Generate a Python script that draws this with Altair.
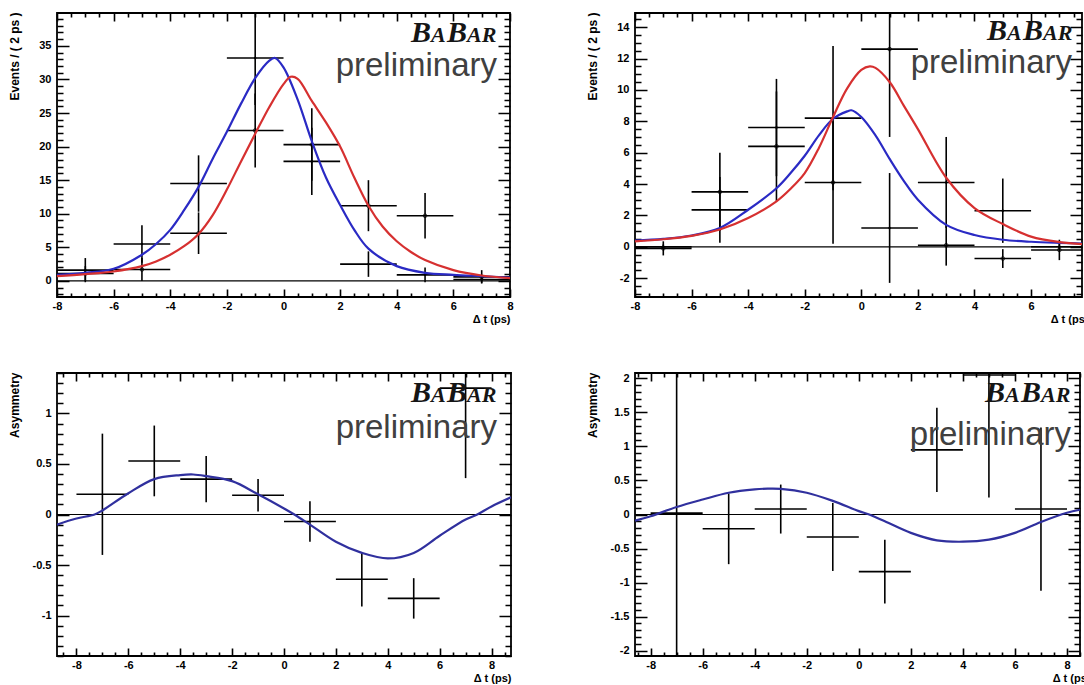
import altair as alt
import pandas as pd
import numpy as np

FONT = "Liberation Sans"
SERIF = "Liberation Serif"

# ---------------- data ----------------
bins = [-7, -5, -3, -1, 1, 3, 5, 7]

tl_blue_y = [1.6, 5.5, 14.5, 33.2, 17.8, 2.5, 0.9, 0.2]
tl_blue_err = [1.8, 2.8, 4.2, 7.0, 5.0, 1.9, 1.1, 0.5]
tl_red_y = [1.1, 1.7, 7.1, 22.4, 20.3, 11.2, 9.7, 0.6]
tl_red_err = [1.1, 1.7, 3.1, 5.5, 5.4, 3.8, 3.4, 1.0]
tl_blue_cx = [-8, -7, -6, -5, -4.5, -4, -3.5, -3, -2.5, -2, -1.5, -1, -0.5, -0.3, 0, 0.5, 1, 1.5, 2, 2.5, 3, 4, 5, 6, 7, 8]
tl_blue_cy = [0.9, 1.2, 1.8, 3.9, 5.5, 7.6, 10.6, 14.0, 18.2, 22.2, 26.4, 30.2, 32.8, 33.2, 31.8, 27.0, 20.8, 15.4, 11.3, 7.6, 4.8, 2.2, 1.2, 0.9, 0.7, 0.5]
tl_red_cx = [-8, -7, -6, -5, -4.5, -4, -3.5, -3, -2.5, -2, -1.5, -1, -0.5, 0, 0.25, 0.5, 1, 1.5, 2, 2.5, 3, 3.5, 4, 4.5, 5, 6, 7, 8]
tl_red_cy = [0.7, 1.0, 1.4, 2.2, 2.9, 3.9, 5.2, 7.0, 9.8, 13.6, 17.8, 21.9, 25.9, 29.3, 30.4, 30.1, 26.8, 23.6, 20.0, 15.4, 11.2, 8.1, 5.9, 4.3, 3.1, 1.6, 0.8, 0.4]

tr_blue_y = [0.0, 2.35, 7.6, 8.2, 1.2, 4.1, 2.3, 0.0]
tr_blue_err = [0.15, 2.1, 3.1, 4.6, 3.5, 2.9, 2.05, 0.2]
tr_red_y = [-0.1, 3.5, 6.4, 4.1, 12.6, 0.1, -0.75, -0.2]
tr_red_err = [0.45, 2.5, 3.5, 3.9, 5.6, 1.3, 0.6, 0.65]
tr_blue_cx = [-8, -7, -6, -5, -4, -3, -2.5, -2, -1.5, -1, -0.5, -0.35, 0, 0.5, 1, 1.5, 2, 3, 4, 5, 6, 7, 8]
tr_blue_cy = [0.4, 0.5, 0.72, 1.2, 2.36, 3.73, 4.7, 5.8, 7.1, 8.16, 8.63, 8.7, 8.27, 7.1, 5.6, 4.2, 3.0, 1.4, 0.75, 0.45, 0.32, 0.25, 0.2]
tr_red_cx = [-8, -7, -6, -5, -4, -3, -2.5, -2, -1.5, -1, -0.5, 0, 0.3, 0.5, 1, 1.5, 2, 3, 4, 5, 6, 7, 8]
tr_red_cy = [0.35, 0.48, 0.7, 1.1, 1.83, 2.9, 3.7, 4.7, 6.3, 8.27, 10.1, 11.27, 11.5, 11.4, 10.5, 9.0, 7.5, 4.4, 2.47, 1.45, 0.65, 0.3, 0.15]

bl_y = [0.2, 0.53, 0.35, 0.19, -0.07, -0.64, -0.83, 1.25]
bl_err = [0.6, 0.35, 0.23, 0.16, 0.2, 0.27, 0.2, 0.89]
bl_cx = [-8.75, -8, -7.3, -7, -6, -5, -4, -3.5, -3, -2, -1, 0, 0.4, 1, 2, 3, 4, 5, 6, 7, 7.45, 8, 8.75]
bl_cy = [-0.1, -0.04, 0.0, 0.04, 0.21, 0.35, 0.39, 0.396, 0.38, 0.33, 0.2, 0.06, 0.0, -0.1, -0.27, -0.38, -0.435, -0.38, -0.21, -0.05, 0.0, 0.08, 0.17]

br_y = [0.02, -0.21, 0.08, -0.33, -0.84, 0.95, 2.05, 0.08]
br_err = [2.6, 0.52, 0.36, 0.5, 0.47, 0.62, 1.8, 1.2]
br_cx = [-8.6, -8, -7, -6, -5, -4, -3.5, -3, -2, -1, 0, 0.4, 1, 2, 3, 4, 5, 6, 7, 8, 8.5]
br_cy = [-0.09, -0.025, 0.11, 0.22, 0.32, 0.37, 0.38, 0.377, 0.32, 0.2, 0.05, 0.0, -0.1, -0.27, -0.38, -0.40, -0.37, -0.27, -0.11, 0.025, 0.07]

# tick layout: (major step, minor step)
x_steps = (2, 0.5)
tl_ysteps = (5, 1)
tr_ysteps = (2, 0.5)
bl_ysteps = (0.5, 0.1)
br_ysteps = (0.5, 0.1)

BLUE = "#2a2ac4"
RED = "#d63030"
NAVY = "#30309e"


def grid_vals(lo, hi, step):
    vals = np.round(np.arange(np.ceil(lo / step - 1e-9) * step, hi + 1e-9, step), 3)
    return [float(v) + 0.0 for v in vals]


def is_major(step):
    return f"abs(datum.value / {step} - round(datum.value / {step})) < 0.000001"


def make_axis(vals, major, length, minor_len, span, label_pad, **kw):
    test = is_major(major)
    return alt.Axis(
        values=vals,
        labelExpr=f"({test}) ? ('' + datum.value) : ''",
        ticks=False, tickSize=0, domain=False,
        grid=True, gridColor="black", gridWidth=1.6, gridOpacity=1,
        gridDash={"condition": {"test": test, "value": [length, span - 2 * length, length, 4000]},
                  "value": [minor_len, span - 2 * minor_len, minor_len, 4000]},
        labelFont=FONT, labelFontSize=11, labelFontWeight="bold", labelColor="black",
        labelPadding=label_pad, labelFlush=False, labelOverlap=False,
        titleFont=FONT, titleFontWeight="bold", titleColor="black",
        titleAnchor="end", titleAlign="right", **kw)


def panel(xdom, ydom, w, h, ysteps, ytitle, series, curves,
          xtitle_x, babar_gap, babar_dy, prelim_gap, prelim_dy):
    xs = alt.Scale(domain=xdom, nice=False, zero=False)
    ys = alt.Scale(domain=ydom, nice=False, zero=False)
    xaxis = make_axis(grid_vals(xdom[0], xdom[1], x_steps[1]), x_steps[0], 8, 4, h, 3,
                      titleFontSize=11, titleX=xtitle_x, titleY=16, titleBaseline="top")
    yaxis = make_axis(grid_vals(ydom[0], ydom[1], ysteps[1]), ysteps[0], 12, 6, w, 6,
                      titleFontSize=12, titleAngle=270, titleX=-36, titleY=-1,
                      titleBaseline="bottom")

    def X(f):
        return alt.X(f, type="quantitative", scale=xs, axis=xaxis, title="Δ t (ps)")

    def Y(f):
        return alt.Y(f, type="quantitative", scale=ys, axis=yaxis, title=ytitle)

    layers = []
    zero = pd.DataFrame({"y": [0.0]})
    layers.append(alt.Chart(zero).mark_rule(color="black", strokeWidth=1.2).encode(y=Y("y")))

    for vals, errs, marker in series:
        df = pd.DataFrame({"x": bins, "y": vals, "e": errs})
        df["lo"] = df["y"] - df["e"]
        df["hi"] = df["y"] + df["e"]
        df["xl"] = df["x"] - 1
        df["xr"] = df["x"] + 1
        layers.append(alt.Chart(df).mark_rule(color="black", strokeWidth=1.6, clip=True)
                      .encode(x=X("xl"), x2="xr", y=Y("y")))
        layers.append(alt.Chart(df).mark_rule(color="black", strokeWidth=1.6, clip=True)
                      .encode(x=X("x"), y=Y("lo"), y2="hi"))
        if marker == "open":
            layers.append(alt.Chart(df).mark_point(shape="circle", filled=False, size=14,
                                                   color="black", strokeWidth=1, clip=True)
                          .encode(x=X("x"), y=Y("y")))
        elif marker == "dot":
            layers.append(alt.Chart(df).mark_point(shape="circle", filled=True, size=6,
                                                   color="black", opacity=1, clip=True)
                          .encode(x=X("x"), y=Y("y")))

    for cx, cy, col in curves:
        cdf = pd.DataFrame({"cx": cx, "cy": cy})
        layers.append(alt.Chart(cdf).mark_line(color=col, strokeWidth=2.2, clip=True,
                                                interpolate="catmull-rom")
                      .encode(x=X("cx"), y=Y("cy")))

    anchor = pd.DataFrame({"x": [xdom[1]], "y": [ydom[1]]})
    total = 86
    for txt, fs, off in (("B", 30, 0), ("A", 22, 20), ("B", 30, 36), ("AR", 22, 56)):
        layers.append(alt.Chart(anchor).mark_text(text=txt, font=SERIF, fontSize=fs,
                                                  fontStyle="italic", fontWeight="bold",
                                                  color="#151515", align="left",
                                                  baseline="alphabetic",
                                                  dx=-babar_gap - total + off, dy=babar_dy)
                      .encode(x=X("x"), y=Y("y")))
    layers.append(alt.Chart(anchor).mark_text(text="preliminary", font=FONT, fontSize=33,
                                              color="#404040", align="right",
                                              baseline="alphabetic",
                                              dx=-prelim_gap, dy=prelim_dy)
                  .encode(x=X("x"), y=Y("y")))

    return alt.layer(*layers).properties(width=w, height=h)


tl = panel([-8, 8], [-2.4, 39.9], 453, 284, tl_ysteps, "Events / ( 2 ps )",
           [(tl_blue_y, tl_blue_err, "dot"), (tl_red_y, tl_red_err, "open")],
           [(tl_blue_cx, tl_blue_cy, BLUE), (tl_red_cx, tl_red_cy, RED)],
           453, 13, 29, 13, 63)
tr = panel([-8, 7.8], [-3.2, 14.9], 447, 284, tr_ysteps, "Events / ( 2 ps )",
           [(tr_blue_y, tr_blue_err, "dot"), (tr_red_y, tr_red_err, "open")],
           [(tr_blue_cx, tr_blue_cy, BLUE), (tr_red_cx, tr_red_cy, RED)],
           453, 9, 27, 10, 60)
bl = panel([-8.75, 8.75], [-1.4, 1.4], 454, 283, bl_ysteps, "Asymmetry",
           [(bl_y, bl_err, "none")],
           [(bl_cx, bl_cy, NAVY)],
           454, 14, 29, 14, 65)
br = panel([-8.6, 8.5], [-2.08, 2.08], 445, 283, br_ysteps, "Asymmetry",
           [(br_y, br_err, "none")],
           [(br_cx, br_cy, NAVY)],
           455, 9, 29, 9, 72)

chart = alt.concat(tl, tr, bl, br, columns=2, bounds="flush",
                   spacing=alt.RowColnumber(row=76, column=124)).properties(
    autosize=alt.AutoSizeParams(type="none"),
    padding={"left": 57, "top": 13, "right": 1027, "bottom": 672},
    background="white",
).configure_view(stroke="black", strokeWidth=1.8)

chart.save("out.html", embed_options={"renderer": "svg", "actions": False})
